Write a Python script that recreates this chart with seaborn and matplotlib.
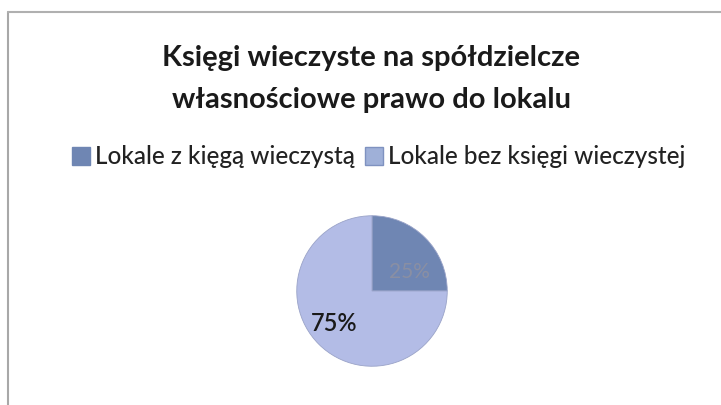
import matplotlib
matplotlib.use("Agg")
import matplotlib.pyplot as plt
import seaborn as sns
from matplotlib.lines import Line2D
from matplotlib.patches import Patch

title = "Księgi wieczyste na spółdzielcze\nwłasnościowe prawo do lokalu"
categories = ["Lokale z kięgą wieczystą", "Lokale bez księgi wieczystej"]
values = [25, 75]
pct_labels = ["25%", "75%"]
colors = ["#6f86b3", "#b3bce6"]

sns.set_theme(style="white")
plt.rcParams['font.family'] = ['Lato', 'DejaVu Sans']

fig = plt.figure(figsize=(7.21, 4.05), dpi=100)
fig.patch.set_facecolor("white")

# frame lines (chart area border, top and left)
fig.add_artist(Line2D([8/721, 8/721], [0, 1 - 12/405], color="#a8a8a8", lw=1.5))
fig.add_artist(Line2D([8/721, 1], [1 - 12/405, 1 - 12/405], color="#b0b0b0", lw=1.5))

fig.text(0.515, 1 - 79/405, title, ha="center", va="center", fontsize=21,
         fontweight="bold", color="#1a1a1a", linespacing=1.75)

ax = fig.add_axes([(372 - 76) / 721, (405 - 367) / 405, 152 / 721, 152 / 405])
wedges, _ = ax.pie(values, colors=colors, startangle=90, counterclock=False,
                   wedgeprops=dict(linewidth=0.6, edgecolor="#9aa3c8"))
ax.set_xlim(-1.01, 1.01)
ax.set_ylim(-1.01, 1.01)
ax.set_aspect("equal")
ax.text(0.5, 0.25, pct_labels[0], ha="center", va="center", fontsize=15,
        color="#8a8fa3")
ax.text(-0.5, -0.43, pct_labels[1], ha="center", va="center", fontsize=17,
        color="#1a1a1a", fontweight="semibold")

handles = [Patch(facecolor=colors[0], edgecolor=colors[0]),
           Patch(facecolor="#9fb0d8", edgecolor="#7f92c0")]
fig.legend(handles, categories, loc="center", bbox_to_anchor=(0.525, 1 - 157/405),
           ncol=2, frameon=False, fontsize=17.5, handlelength=0.75, handleheight=0.75,
           handletextpad=0.2, columnspacing=0.4, labelcolor="#222222",
           prop=dict(size=17.5, weight="medium"))

fig.savefig("out.png", dpi=100, facecolor="white")
